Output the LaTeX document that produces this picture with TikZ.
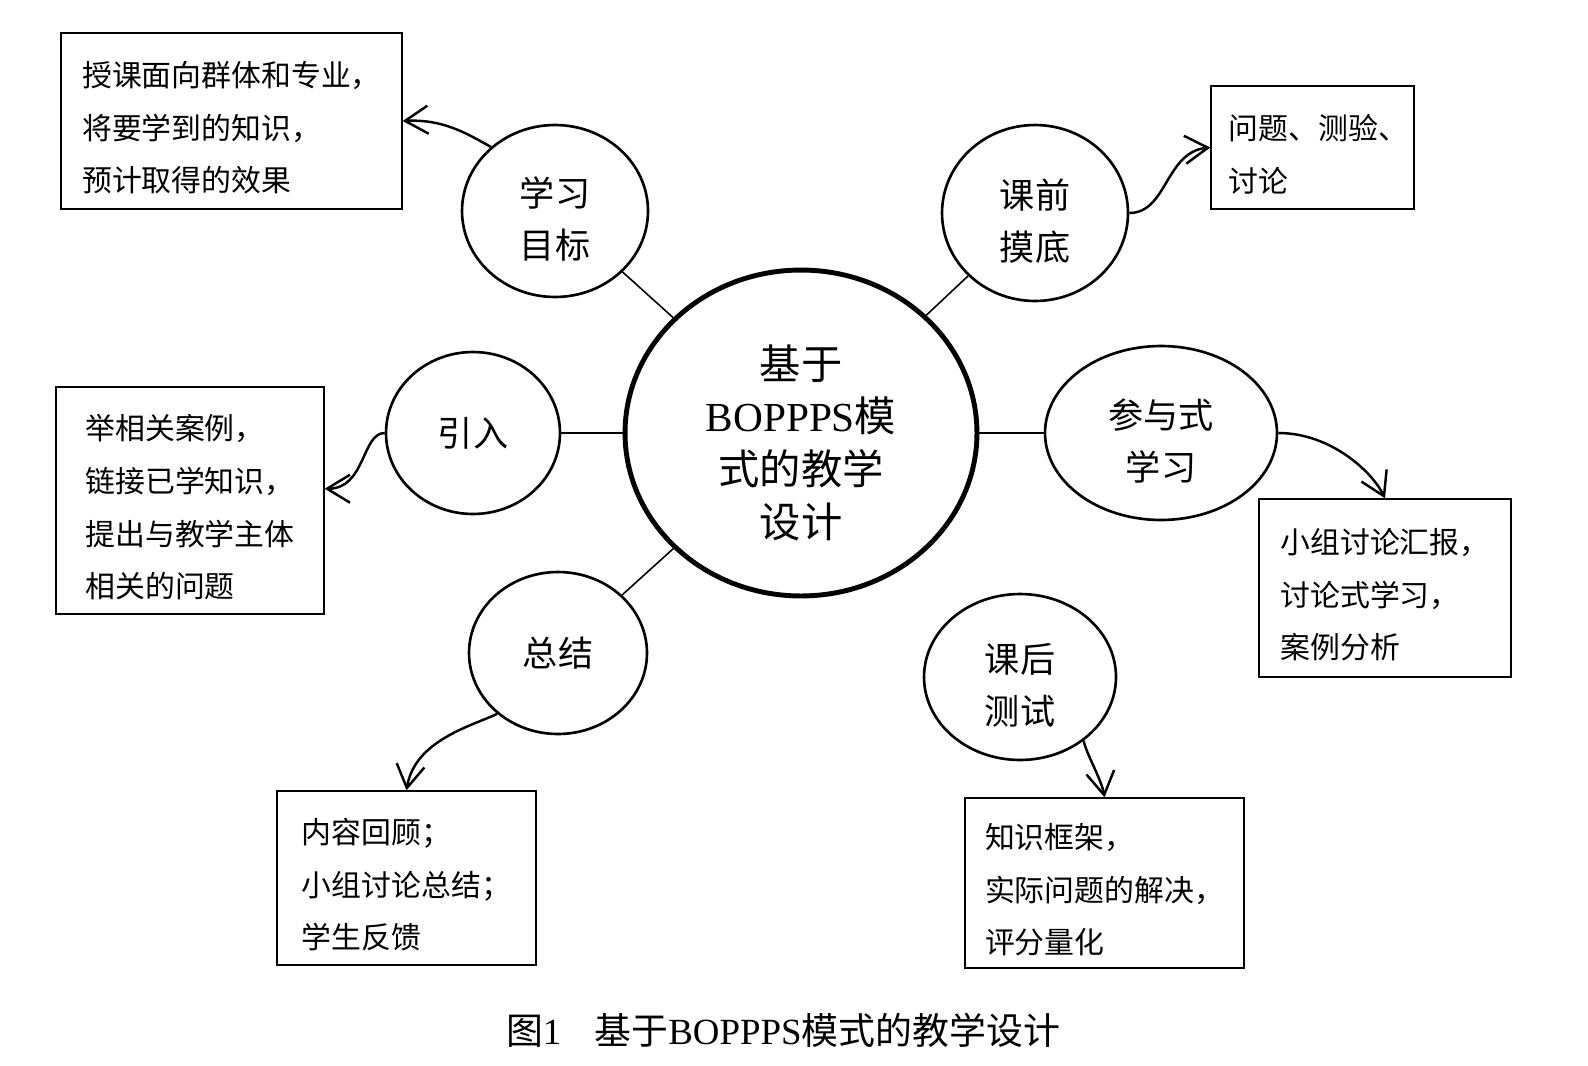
\documentclass[tikz,border=0pt]{standalone}
\usepackage{fontspec}
\usepackage{tikz}
\usetikzlibrary{
  arrows.meta,
  shapes.geometric
}
\setmainfont{Noto Sans CJK SC}
\newfontfamily\latinserif{Liberation Serif}
\newcommand{\topgap}{\rule{0pt}{1.3em}}

\begin{document}
\begin{tikzpicture}[
  x=0.02cm, y=-0.02cm,
  hub/.style={
    ellipse, draw, line width=2.8pt, inner sep=0pt,
    minimum width=7.04cm, minimum height=6.52cm,
    align=center, font=\fontsize{23.5}{30}\selectfont
  },
  stage/.style={
    ellipse, draw, line width=1.5pt, inner sep=0pt,
    align=center, font=\fontsize{20}{30}\selectfont
  },
  note/.style={
    rectangle, draw, line width=0.8pt, inner sep=0pt,
    align=left, font=\fontsize{17}{30}\selectfont
  },
  link/.style={line width=0.9pt},
  flow/.style={line width=1.4pt, -{Straight Barb[length=4.6mm, width=5.6mm]}}
]
\useasboundingbox (0,0) rectangle (1588,1065);

\node[hub] (hub) at (801,433) {\topgap 基于\\{\latinserif BOPPPS}模\\式的教学\\设计};

\node[stage, minimum width=3.72cm, minimum height=3.44cm] (goal) at (555,211) {\topgap 学习\\目标};
\node[stage, minimum width=3.72cm, minimum height=3.52cm] (pretest) at (1035,213) {\topgap 课前\\摸底};
\node[stage, minimum width=3.48cm, minimum height=3.24cm] (intro) at (473,433) {引入};
\node[stage, minimum width=4.64cm, minimum height=3.48cm] (engage) at (1161,433) {\topgap 参与式\\学习};
\node[stage, minimum width=3.56cm, minimum height=3.24cm] (summary) at (558,653) {总结};
\node[stage, minimum width=3.84cm, minimum height=3.32cm] (posttest) at (1020,677) {\topgap 课后\\测试};

\draw[link] (goal) -- (hub);
\draw[link] (pretest) -- (hub);
\draw[link] (intro) -- (hub);
\draw[link] (engage) -- (hub);
\draw[link] (summary) -- (hub);

% Notes for each stage
\node[note, minimum width=6.82cm, minimum height=3.52cm] (goalnote) at (231.5,121)
  {\topgap 授课面向群体和专业，\\将要学到的知识，\\预计取得的效果};
\node[note, minimum width=4.06cm, minimum height=2.46cm] (pretestnote) at (1312.5,147.5)
  {\topgap\hspace{0.4em}问题、测验、\\\hspace{0.4em}讨论};
\node[note, minimum width=5.36cm, minimum height=4.54cm] (intronote) at (190,500.5)
  {\topgap 举相关案例，\\链接已学知识，\\提出与教学主体\hspace*{0.4em}\\相关的问题};
\node[note, minimum width=5.04cm, minimum height=3.56cm] (engagenote) at (1385,588)
  {\topgap 小组讨论汇报，\\讨论式学习，\\案例分析};
\node[note, minimum width=5.18cm, minimum height=3.48cm] (summarynote) at (406.5,878)
  {\topgap 内容回顾；\\小组讨论总结；\\学生反馈};
\node[note, minimum width=5.58cm, minimum height=3.40cm] (posttestnote) at (1104.5,883)
  {\topgap 知识框架，\\实际问题的解决，\\评分量化};

\draw[flow] (goal.135) .. controls +(-25,-14) and +(40,-2) .. (goalnote.east);
\draw[flow] (pretest.east) .. controls +(38,0) and +(-45,4) .. (pretestnote.west);
\draw[flow] (intro.west) .. controls +(-23,0) and +(41,0) .. (intronote.5);
\draw[flow] (engage.east) .. controls +(52,0) and +(-13,-27) .. (engagenote.north);
\draw[flow] (summary.225) .. controls +(-25,12) and +(8,-50) .. (summarynote.north);
\draw[flow] (posttest.-45) .. controls +(2,12) and +(-3,-18) .. (posttestnote.north);

\node[font=\fontsize{21}{24}\selectfont] (caption) at (783,1030)
  {图{\latinserif 1}\hspace{0.9em}基于{\latinserif BOPPPS}模式的教学设计};

\end{tikzpicture}
\end{document}
